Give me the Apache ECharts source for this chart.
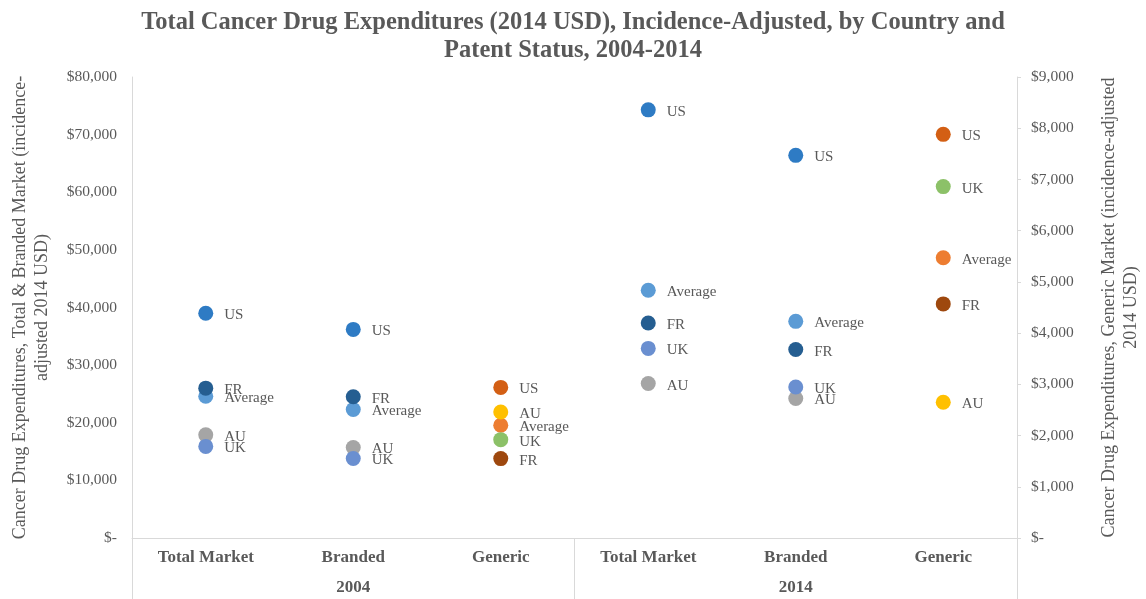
<!DOCTYPE html>
<html>
<head>
<meta charset="utf-8">
<script src="https://cdn.jsdelivr.net/npm/echarts@6/dist/echarts.min.js"></script>
<style>
html,body{margin:0;padding:0;background:#fff;}
#chart{width:1146px;height:599px;}
</style>
</head>
<body>
<div id="chart"></div>
<script>
// Categories (two-level axis)
const categories = ['Total Market', 'Branded', 'Generic', 'Total Market', 'Branded', 'Generic'];
const years = ['2004', '2014'];
const countries = ['US', 'Average', 'AU', 'UK', 'FR'];

// Total & Branded market values (left axis), null where generic
const usMain      = [39000, 36200, null, 74300, 66400, null];
const averageMain = [24600, 22300, null, 43000, 37600, null];
const auMain      = [17900, 15700, null, 26800, 24200, null];
const ukMain      = [15900, 13800, null, 32900, 26200, null];
const frMain      = [26000, 24500, null, 37300, 32700, null];

// Generic market values (right axis)
const usGeneric      = [null, null, 2940, null, null, 7880];
const averageGeneric = [null, null, 2200, null, null, 5470];
const auGeneric      = [null, null, 2460, null, null, 2650];
const ukGeneric      = [null, null, 1920, null, null, 6860];
const frGeneric      = [null, null, 1550, null, null, 4570];

const leftTicks = [0, 80000, 10000];
const rightTicks = [0, 9000, 1000];

const mainSets = [usMain, averageMain, auMain, ukMain, frMain];
const genericSets = [usGeneric, averageGeneric, auGeneric, ukGeneric, frGeneric];
const mainColors = ['#2E7BC4', '#5B9BD5', '#A5A5A5', '#6A8FD0', '#255E91'];
const genericColors = ['#D35F14', '#ED7D31', '#FFC000', '#8CC168', '#9E480E'];

const FONT = 'Liberation Serif';
const GREY = '#595959';
const LINE = '#D9D9D9';

function toPairs(arr) {
  const out = [];
  arr.forEach((v, i) => { if (v !== null) out.push([i, v]); });
  return out;
}
function money(v) {
  return v === 0 ? '$-' : '$' + v.toLocaleString('en-US');
}

const series = [];
countries.forEach((c, k) => {
  series.push({
    name: c, type: 'scatter', xAxisIndex: 0, yAxisIndex: 0,
    symbolSize: 15, data: toPairs(mainSets[k]),
    itemStyle: { color: mainColors[k], opacity: 1 },
    label: { show: true, position: 'right', distance: 11, offset: [0, 2], formatter: c,
             fontFamily: FONT, fontSize: 15, color: GREY },
    emphasis: { disabled: true }
  });
});
countries.forEach((c, k) => {
  series.push({
    name: c + ' generic', type: 'scatter', xAxisIndex: 0, yAxisIndex: 1,
    symbolSize: 15, data: toPairs(genericSets[k]),
    itemStyle: { color: genericColors[k], opacity: 1 },
    label: { show: true, position: 'right', distance: 11, offset: [0, 2], formatter: c,
             fontFamily: FONT, fontSize: 15, color: GREY },
    emphasis: { disabled: true }
  });
});

const chart = echarts.init(document.getElementById('chart'), null, { renderer: 'canvas' });
chart.setOption({
  animation: false,
  backgroundColor: '#fff',
  title: {
    text: 'Total Cancer Drug Expenditures (2014 USD), Incidence-Adjusted, by Country and\nPatent Status, 2004-2014',
    left: 'center', top: 4,
    textStyle: { fontFamily: FONT, fontWeight: 'bold', fontSize: 24.5, color: GREY, lineHeight: 28 }
  },
  grid: { left: 132, right: 129, top: 77, bottom: 61, containLabel: false, outerBoundsMode: 'none' },
  xAxis: [
    {
      type: 'category', data: categories, position: 'bottom',
      axisLine: { show: true, lineStyle: { color: LINE, width: 1 } },
      axisTick: { show: false },
      axisLabel: { margin: 11, fontFamily: FONT, fontWeight: 'bold', fontSize: 17, color: GREY, interval: 0 },
      splitLine: { show: false }
    },
    {
      type: 'category', data: years, position: 'bottom', gridIndex: 0,
      axisLine: { show: false },
      axisTick: { show: true, length: 62, lineStyle: { color: LINE, width: 1 } },
      axisLabel: { margin: 41, fontFamily: FONT, fontWeight: 'bold', fontSize: 17, color: GREY },
      splitLine: { show: false }
    }
  ],
  yAxis: [
    {
      type: 'value', min: leftTicks[0], max: leftTicks[1], interval: leftTicks[2], position: 'left',
      axisLine: { show: true, lineStyle: { color: LINE, width: 1 } },
      axisTick: { show: false },
      splitLine: { show: false },
      axisLabel: { margin: 15, fontFamily: FONT, fontSize: 15.5, color: GREY, formatter: money },
      name: 'Cancer Drug Expenditures, Total & Branded Market (incidence-\nadjusted 2014 USD)',
      nameLocation: 'middle', nameRotate: 90, nameGap: 79,
      nameTextStyle: { fontFamily: FONT, fontSize: 18, color: GREY, lineHeight: 22 }
    },
    {
      type: 'value', min: rightTicks[0], max: rightTicks[1], interval: rightTicks[2], position: 'right',
      axisLine: { show: true, lineStyle: { color: LINE, width: 1 } },
      axisTick: { show: true, length: 4, lineStyle: { color: LINE } },
      splitLine: { show: false },
      axisLabel: { margin: 14, fontFamily: FONT, fontSize: 15.5, color: GREY, formatter: money },
      name: 'Cancer Drug Expenditures, Generic Market (incidence-adjusted\n2014 USD)',
      nameLocation: 'middle', nameRotate: 90, nameGap: 81,
      nameTextStyle: { fontFamily: FONT, fontSize: 18, color: GREY, lineHeight: 22 }
    }
  ],
  series: series
});
</script>
</body>
</html>
